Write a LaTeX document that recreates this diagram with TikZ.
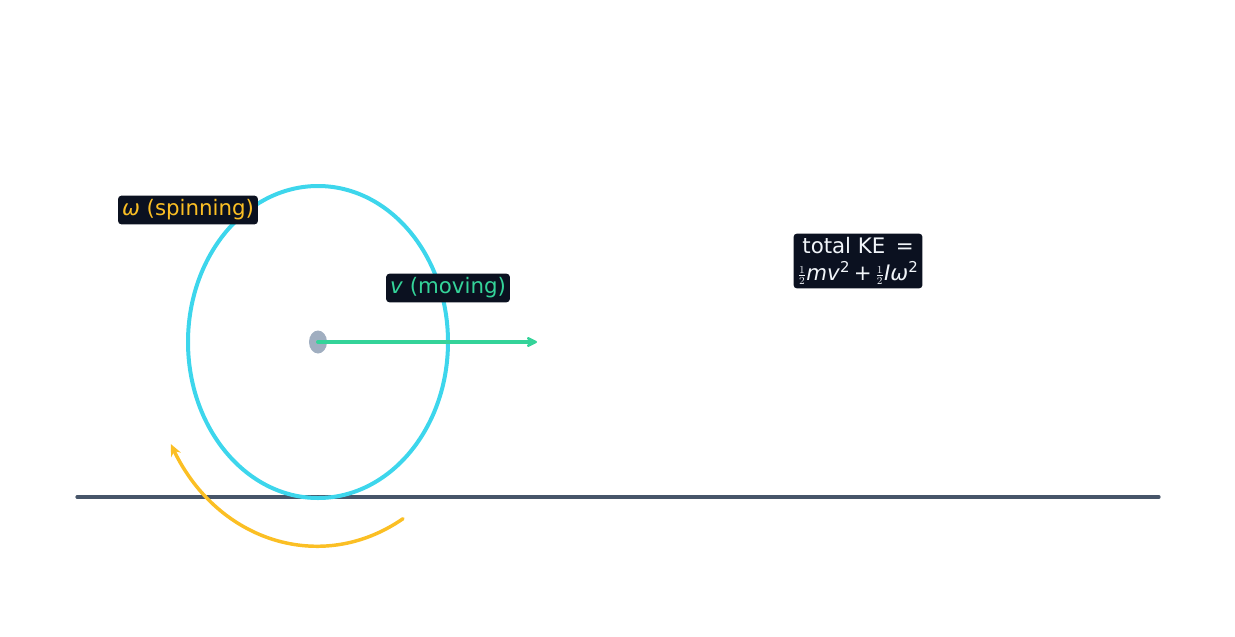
\documentclass[tikz,border=0pt]{standalone}
\usepackage{fontspec}
\setmainfont{DejaVu Sans}
\usetikzlibrary{arrows.meta,calc}
\definecolor{wheel_cyan}{HTML}{3DD6EC}
\definecolor{spin_orange}{HTML}{FBBF24}
\definecolor{move_green}{HTML}{34D399}
\definecolor{ground_gray}{HTML}{475569}
\definecolor{hub_gray}{HTML}{A0AEC0}
\definecolor{box_dark}{HTML}{0B1120}
\definecolor{text_white}{HTML}{F1F5F9}
\newcommand{\half}{\raisebox{0.1ex}{$\scriptstyle\frac{1}{2}$}}

\begin{document}
\begin{tikzpicture}[x=0.75pt,y=-0.75pt,line cap=round]
    \tikzstyle{tag}=[fill=box_dark, rounded corners=2.5pt, inner sep=3pt, font=\fontsize{16}{19}\selectfont]
    \useasboundingbox (0,0) rectangle (1235,636);

    \coordinate (gl) at (77,497);
    \coordinate (gr) at (1159,497);
    \coordinate (c)  at (318,342);
    \coordinate (tip) at (537,342);
    \draw[ground_gray, line width=2.4pt] (gl) -- (gr);
    \draw[wheel_cyan, line width=3pt] (c) ellipse [x radius=130, y radius=156];
    \draw[spin_orange, line width=2.6pt, {Stealth[length=9pt,width=8pt]}-]
        ($(c)+(150:170 and 204)$) arc [start angle=150, end angle=60, x radius=170, y radius=204];
    \fill[hub_gray] (c) ellipse [x radius=9, y radius=11.5];
    \draw[move_green, line width=3pt, -{Stealth[length=10pt,width=10pt,round]}] (c) -- (tip);

    \node[tag, text=spin_orange] (w) at (188,210) {\textit{ω} (spinning)};
    \node[tag, text=move_green]  (v) at (448,288) {\textit{v} (moving)};
    \node[tag, text=text_white, align=center] (ke) at (858,261)
        {total KE \,=\\[1pt]\half\textit{mv}\textsuperscript{2}\,+\,\half\textit{Iω}\textsuperscript{2}};
\end{tikzpicture}
\end{document}
